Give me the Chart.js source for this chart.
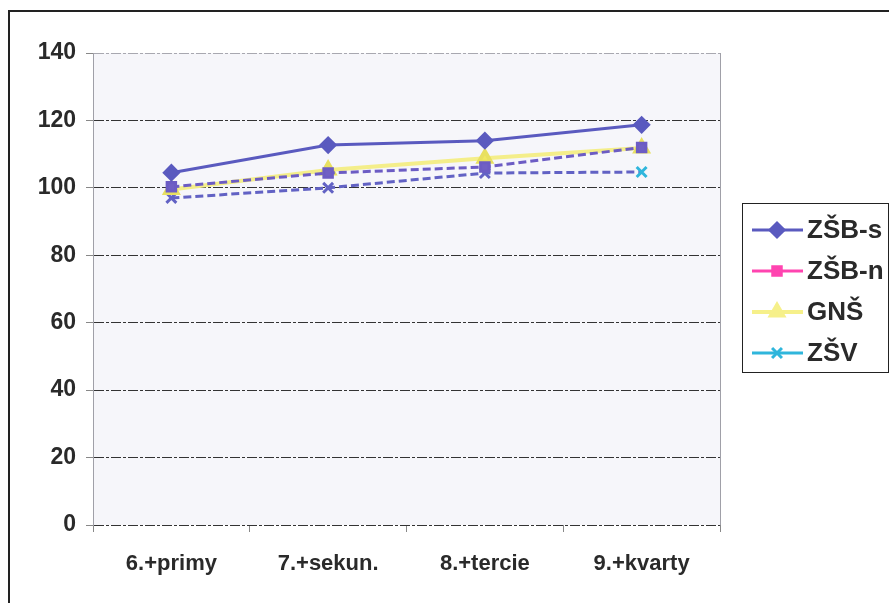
<!DOCTYPE html>
<html>
<head>
<meta charset="utf-8">
<script src="https://cdn.jsdelivr.net/npm/chart.js@4/dist/chart.umd.min.js"></script>
<style>
  html, body { margin: 0; padding: 0; background: #fff; }
  #wrap { position: relative; width: 889px; height: 603px; overflow: hidden; }
  #frame {
    position: absolute; left: 8px; top: 10px; right: -10px; bottom: -10px;
    border-left: 2px solid #222; border-top: 2px solid #222;
  }
  canvas { position: absolute; left: 0; top: 0; }
</style>
</head>
<body>
<div id="wrap">
  <div id="frame"></div>
  <canvas id="chart" width="889" height="603" style="width:889px;height:603px"></canvas>
</div>
<script>
const categories = ['6.+primy', '7.+sekun.', '8.+tercie', '9.+kvarty'];
const seriesNames = ['ZŠB-s', 'ZŠB-n', 'GNŠ', 'ZŠV'];
const zsbS = [104.5, 112.7, 114.0, 118.7];
const zsbN = [100.3, 104.4, 106.2, 112.0];
const gns = [99.5, 105.3, 108.8, 111.8];
const zsv = [97.0, 100.0, 104.4, 104.7];
const yTicks = [0, 20, 40, 60, 80, 100, 120, 140];

const TEXT = '#2a2a2a';
const FONT = '"Liberation Sans", Arial, sans-serif';

// legend swatch colours per series
const legendColors = ['#5a5abf', '#ff44b0', '#f6f08a', '#2fb6dc'];

const plotBox = {
  id: 'plotBox',
  beforeDraw(chart) {
    const { ctx, chartArea: a } = chart;
    ctx.save();
    ctx.fillStyle = '#f6f6fa';
    ctx.fillRect(a.left, a.top, a.right - a.left, a.bottom - a.top);
    ctx.strokeStyle = '#a0a0a8';
    ctx.lineWidth = 1;
    ctx.beginPath();
    ctx.moveTo(a.right + 0.5, a.top);
    ctx.lineTo(a.right + 0.5, a.bottom + 6);
    ctx.stroke();
    ctx.restore();
  },
};

const boxLegend = {
  id: 'boxLegend',
  afterDraw(chart) {
    const ctx = chart.ctx;
    const left = 742, top = 203, right = 888, bottom = 372;
    ctx.save();
    ctx.fillStyle = '#fff';
    ctx.fillRect(left, top, right - left, bottom - top);
    ctx.strokeStyle = '#222';
    ctx.lineWidth = 1;
    ctx.strokeRect(left + 0.5, top + 0.5, right - left, bottom - top);
    chart.data.datasets.forEach((ds, i) => {
      const y = 230 + i * 41;
      const c = legendColors[i];
      ctx.strokeStyle = c;
      ctx.lineWidth = ds.borderWidth;
      ctx.setLineDash([]);
      ctx.beginPath();
      ctx.moveTo(752, y);
      ctx.lineTo(803, y);
      ctx.stroke();
      ctx.fillStyle = c;
      Chart.helpers.drawPoint(ctx, {
        pointStyle: ds.pointStyle,
        radius: ds.pointRadius,
        borderWidth: 2,
        rotation: 0,
      }, 777, y);
      ctx.fillStyle = TEXT;
      ctx.font = 'bold 26px ' + FONT;
      ctx.textBaseline = 'middle';
      ctx.textAlign = 'left';
      ctx.fillText(ds.label, 807, y + 1);
    });
    ctx.restore();
  },
};

new Chart(document.getElementById('chart'), {
  type: 'line',
  data: {
    labels: categories,
    datasets: [
      {
        label: seriesNames[0], data: zsbS,
        borderColor: '#5a5abf', backgroundColor: '#5a5abf', borderWidth: 3,
        pointStyle: 'rectRot', pointRadius: 7, pointBackgroundColor: '#5a5abf',
      },
      {
        label: seriesNames[1], data: zsbN,
        borderColor: '#6c5cc4', backgroundColor: '#6c5cc4', borderWidth: 3,
        borderDash: [8, 4],
        pointStyle: 'rect', pointRadius: 6, pointBackgroundColor: '#7060c4',
      },
      {
        label: seriesNames[2], data: gns,
        borderColor: '#f4ee8a', backgroundColor: '#f0e860', borderWidth: 4,
        pointStyle: 'triangle', pointRadius: 7, pointBackgroundColor: '#f0e860',
        pointBorderColor: '#e8e060',
      },
      {
        label: seriesNames[3], data: zsv,
        borderColor: '#6262c4', backgroundColor: '#6262c4', borderWidth: 3,
        borderDash: [8, 4],
        pointStyle: 'crossRot', pointRadius: 7, pointBorderWidth: 3,
        pointBorderColor: ['#6262c4', '#6262c4', '#6262c4', '#2fb6dc'],
      },
    ],
  },
  options: {
    responsive: false,
    animation: false,
    layout: { padding: { left: 0, top: 53, right: 169, bottom: 0 } },
    scales: {
      x: {
        offset: true,
        grid: { offset: true, drawOnChartArea: false, tickLength: 7, color: '#888' },
        border: { display: false },
        ticks: { color: TEXT, padding: 19, font: { family: FONT, size: 22, weight: 'bold' } },
        afterFit: s => { s.height = 78; },
      },
      y: {
        min: 0, max: 140,
        afterBuildTicks: s => { s.ticks = yTicks.map(v => ({ value: v })); },
        grid: {
          tickLength: 7,
          color: c => (c.tick && c.tick.value === 140 ? '#a8a8b0' : '#333'),
          tickColor: '#888',
        },
        // in v4 the border dash also dashes the grid lines
        border: { color: '#a0a0a8', dash: [10, 2, 3, 2] },
        ticks: { color: TEXT, padding: 10, font: { family: FONT, size: 23, weight: 'bold' } },
        afterFit: s => { s.width = 93; },
      },
    },
    plugins: {
      legend: { display: false },
      tooltip: { enabled: false },
    },
  },
  plugins: [plotBox, boxLegend],
});
</script>
</body>
</html>
